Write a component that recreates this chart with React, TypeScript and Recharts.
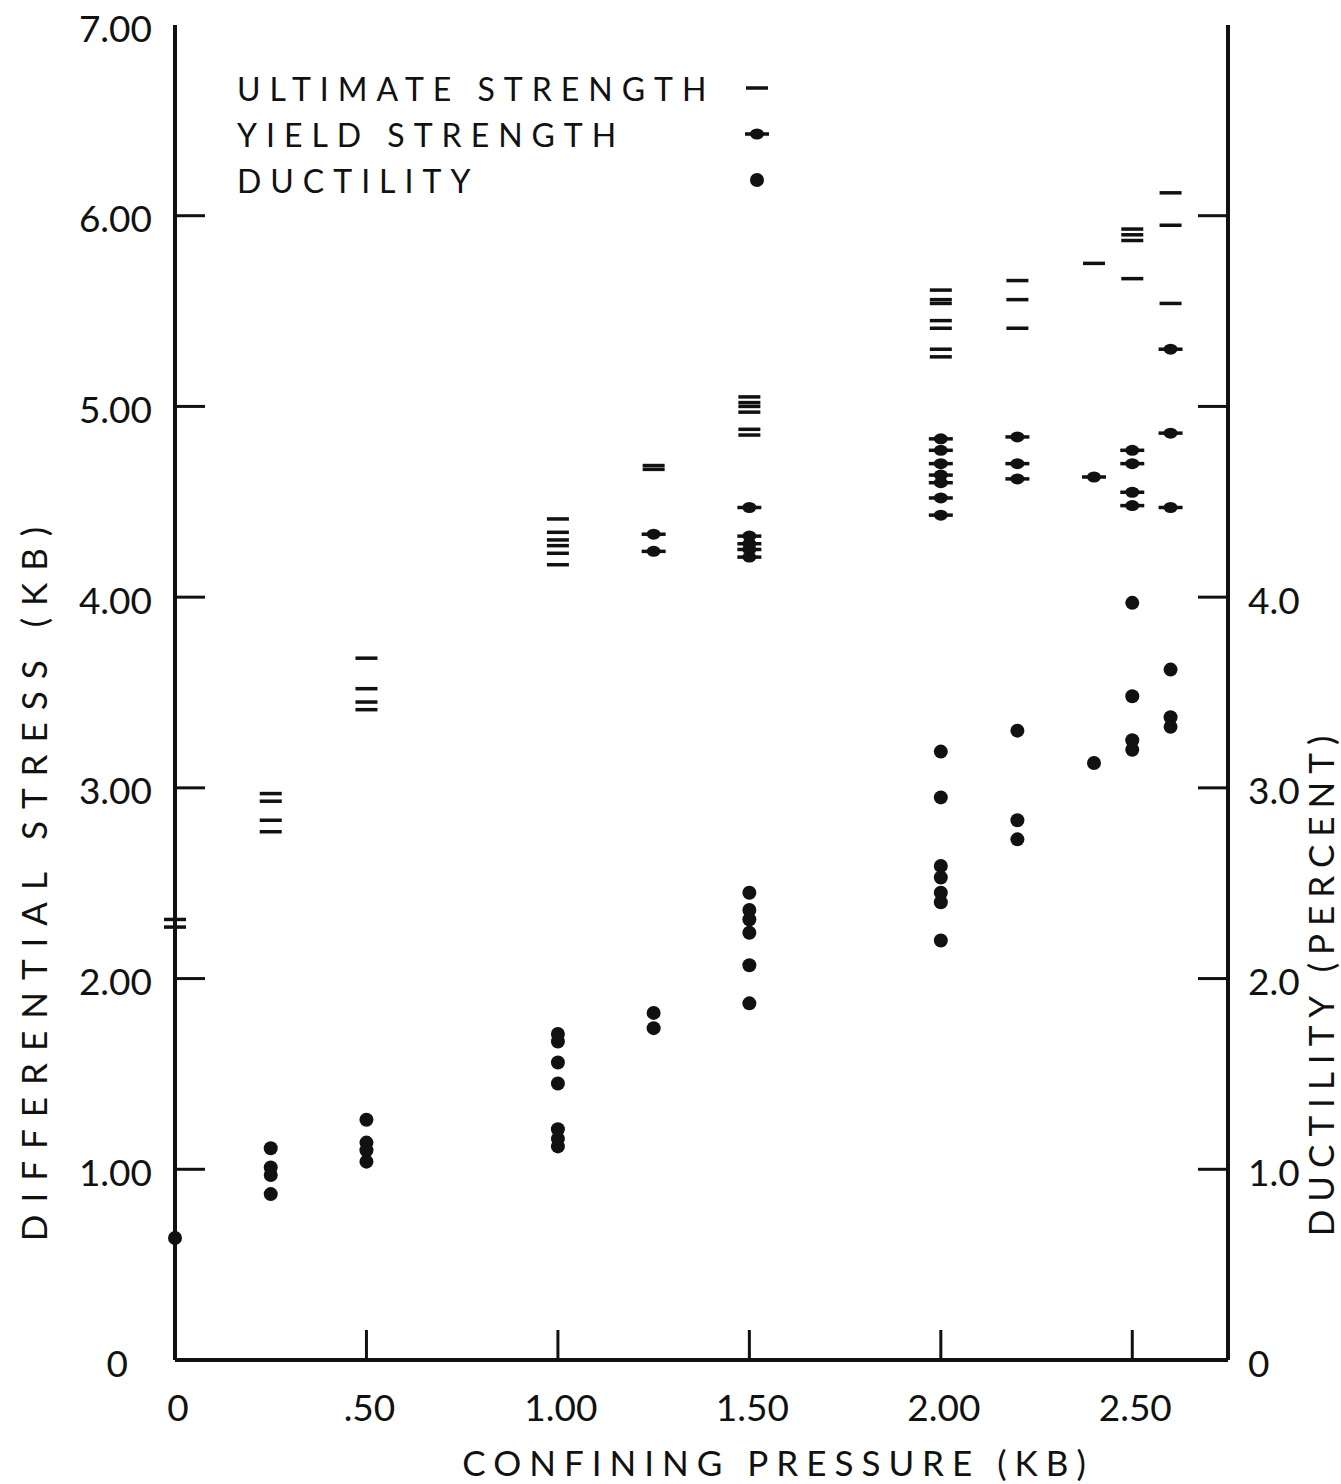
import React from "react"
import { ScatterChart, Scatter, XAxis, YAxis, Legend } from "recharts"

// confining pressure (kb) vs differential stress (kb) / ductility (percent)
const ultimateStrength = [
  { pressure: 0, value: 2.31 }, { pressure: 0, value: 2.27 },
  { pressure: 0.25, value: 2.97 }, { pressure: 0.25, value: 2.93 }, { pressure: 0.25, value: 2.83 }, { pressure: 0.25, value: 2.77 },
  { pressure: 0.5, value: 3.68 }, { pressure: 0.5, value: 3.52 }, { pressure: 0.5, value: 3.45 }, { pressure: 0.5, value: 3.41 },
  { pressure: 1.0, value: 4.41 }, { pressure: 1.0, value: 4.34 }, { pressure: 1.0, value: 4.3 }, { pressure: 1.0, value: 4.27 },
  { pressure: 1.0, value: 4.23 }, { pressure: 1.0, value: 4.17 },
  { pressure: 1.25, value: 4.69 }, { pressure: 1.25, value: 4.67 },
  { pressure: 1.5, value: 5.05 }, { pressure: 1.5, value: 5.02 }, { pressure: 1.5, value: 5.0 }, { pressure: 1.5, value: 4.97 },
  { pressure: 1.5, value: 4.88 }, { pressure: 1.5, value: 4.85 },
  { pressure: 2.0, value: 5.61 }, { pressure: 2.0, value: 5.56 }, { pressure: 2.0, value: 5.54 }, { pressure: 2.0, value: 5.45 },
  { pressure: 2.0, value: 5.41 }, { pressure: 2.0, value: 5.3 }, { pressure: 2.0, value: 5.26 },
  { pressure: 2.2, value: 5.66 }, { pressure: 2.2, value: 5.56 }, { pressure: 2.2, value: 5.41 },
  { pressure: 2.4, value: 5.75 },
  { pressure: 2.5, value: 5.93 }, { pressure: 2.5, value: 5.9 }, { pressure: 2.5, value: 5.87 }, { pressure: 2.5, value: 5.67 },
  { pressure: 2.6, value: 6.12 }, { pressure: 2.6, value: 5.95 }, { pressure: 2.6, value: 5.54 },
]

const yieldStrength = [
  { pressure: 1.25, value: 4.33 }, { pressure: 1.25, value: 4.24 },
  { pressure: 1.5, value: 4.47 }, { pressure: 1.5, value: 4.32 }, { pressure: 1.5, value: 4.28 }, { pressure: 1.5, value: 4.25 },
  { pressure: 1.5, value: 4.21 },
  { pressure: 2.0, value: 4.83 }, { pressure: 2.0, value: 4.77 }, { pressure: 2.0, value: 4.7 }, { pressure: 2.0, value: 4.64 },
  { pressure: 2.0, value: 4.6 }, { pressure: 2.0, value: 4.52 }, { pressure: 2.0, value: 4.43 },
  { pressure: 2.2, value: 4.84 }, { pressure: 2.2, value: 4.7 }, { pressure: 2.2, value: 4.62 },
  { pressure: 2.4, value: 4.63 },
  { pressure: 2.5, value: 4.77 }, { pressure: 2.5, value: 4.7 }, { pressure: 2.5, value: 4.55 }, { pressure: 2.5, value: 4.48 },
  { pressure: 2.6, value: 5.3 }, { pressure: 2.6, value: 4.86 }, { pressure: 2.6, value: 4.47 },
]

const ductility = [
  { pressure: 0, value: 0.64 },
  { pressure: 0.25, value: 1.11 }, { pressure: 0.25, value: 1.01 }, { pressure: 0.25, value: 0.97 }, { pressure: 0.25, value: 0.87 },
  { pressure: 0.5, value: 1.26 }, { pressure: 0.5, value: 1.14 }, { pressure: 0.5, value: 1.1 }, { pressure: 0.5, value: 1.04 },
  { pressure: 1.0, value: 1.71 }, { pressure: 1.0, value: 1.67 }, { pressure: 1.0, value: 1.56 }, { pressure: 1.0, value: 1.45 },
  { pressure: 1.0, value: 1.21 }, { pressure: 1.0, value: 1.16 }, { pressure: 1.0, value: 1.12 },
  { pressure: 1.25, value: 1.82 }, { pressure: 1.25, value: 1.74 },
  { pressure: 1.5, value: 2.45 }, { pressure: 1.5, value: 2.36 }, { pressure: 1.5, value: 2.31 }, { pressure: 1.5, value: 2.24 },
  { pressure: 1.5, value: 2.07 }, { pressure: 1.5, value: 1.87 },
  { pressure: 2.0, value: 3.19 }, { pressure: 2.0, value: 2.95 }, { pressure: 2.0, value: 2.59 }, { pressure: 2.0, value: 2.53 },
  { pressure: 2.0, value: 2.45 }, { pressure: 2.0, value: 2.4 }, { pressure: 2.0, value: 2.2 },
  { pressure: 2.2, value: 3.3 }, { pressure: 2.2, value: 2.83 }, { pressure: 2.2, value: 2.73 },
  { pressure: 2.4, value: 3.13 },
  { pressure: 2.5, value: 3.97 }, { pressure: 2.5, value: 3.48 }, { pressure: 2.5, value: 3.25 }, { pressure: 2.5, value: 3.2 },
  { pressure: 2.6, value: 3.62 }, { pressure: 2.6, value: 3.37 }, { pressure: 2.6, value: 3.32 },
]

const pressureTicks = [0, 0.5, 1, 1.5, 2, 2.5]
const pressureLabels = ["0", ".50", "1.00", "1.50", "2.00", "2.50"]
const stressTicks = [0, 1, 2, 3, 4, 5, 6, 7]
const stressLabels = ["0", "1.00", "2.00", "3.00", "4.00", "5.00", "6.00", "7.00"]
const ductilityTicks = [0, 1, 2, 3, 4, 5, 6, 7]
const ductilityLabels = ["0", "1.0", "2.0", "3.0", "4.0", "", "", ""]

const legendItems = ["ULTIMATE STRENGTH", "YIELD STRENGTH", "DUCTILITY"]

const FONT = "Lato, 'DejaVu Sans', sans-serif"
const INK = "#111"
const TICK_LEN = 30

function DashMark({ cx, cy }: any) {
  return <line x1={cx - 11} x2={cx + 11} y1={cy} y2={cy} stroke={INK} strokeWidth={3.5} />
}

function YieldMark({ cx, cy }: any) {
  return (
    <g>
      <line x1={cx - 12} x2={cx + 12} y1={cy} y2={cy} stroke={INK} strokeWidth={3.5} />
      <ellipse cx={cx} cy={cy} rx={7} ry={5.5} fill={INK} />
    </g>
  )
}

function DotMark({ cx, cy }: any) {
  return <circle cx={cx} cy={cy} r={7} fill={INK} />
}

function LeftTick({ x, y, payload }: any) {
  const axisX = x + 25
  const i = stressTicks.indexOf(payload.value)
  const tx = payload.value === 0 ? axisX - 47 : axisX - 23
  return (
    <g>
      {payload.value > 0 && payload.value < 7 && (
        <line x1={axisX} x2={axisX + TICK_LEN} y1={y} y2={y} stroke={INK} strokeWidth={3} />
      )}
      <text x={tx} y={y + 2} textAnchor="end" dominantBaseline="central" fontFamily={FONT} fontSize={37} fill={INK}>
        {stressLabels[i]}
      </text>
    </g>
  )
}

function RightTick({ x, y, payload }: any) {
  const axisX = x - 20
  const i = ductilityTicks.indexOf(payload.value)
  return (
    <g>
      {payload.value > 0 && payload.value < 7 && (
        <line x1={axisX - TICK_LEN} x2={axisX} y1={y} y2={y} stroke={INK} strokeWidth={3} />
      )}
      <text x={axisX + 20} y={y + 2} textAnchor="start" dominantBaseline="central" fontFamily={FONT} fontSize={37} fill={INK}>
        {ductilityLabels[i]}
      </text>
    </g>
  )
}

function BottomTick({ x, y, payload }: any) {
  const axisY = y - 20
  const i = pressureTicks.indexOf(payload.value)
  return (
    <g>
      {payload.value > 0 && (
        <line x1={x} x2={x} y1={axisY - TICK_LEN} y2={axisY} stroke={INK} strokeWidth={3} />
      )}
      <text x={x + 3} y={axisY + 46} textAnchor="middle" dominantBaseline="central" fontFamily={FONT} fontSize={37} fill={INK}>
        {pressureLabels[i]}
      </text>
    </g>
  )
}

function TopTick({ x, y, payload }: any) {
  if (payload.value === 0) return <g />
  return <line x1={x} x2={x} y1={y} y2={y + TICK_LEN} stroke={INK} strokeWidth={3} />
}

function LegendContent() {
  const marks = [DashMark, YieldMark, DotMark]
  return (
    <div style={{ fontFamily: FONT, color: INK }}>
      {legendItems.map((name, i) => {
        const Mark = marks[i]
        return (
          <div key={name} style={{ display: "flex", alignItems: "center", height: 46 }}>
            <span style={{ width: 500, fontSize: 32, letterSpacing: 9, whiteSpace: "nowrap" }}>{name}</span>
            <svg width={40} height={30}>
              <Mark cx={20} cy={15} />
            </svg>
          </div>
        )
      })}
    </div>
  )
}

function AxisTitle({ x, y, angle, text, spacing }: any) {
  return (
    <text
      x={x}
      y={y}
      transform={angle ? `rotate(${angle} ${x} ${y})` : undefined}
      textAnchor="middle"
      dominantBaseline="central"
      fontFamily={FONT}
      fontSize={35}
      letterSpacing={spacing}
      fill={INK}
    >
      {text}
    </text>
  )
}

export default function App() {
  const axisLine = { stroke: INK, strokeWidth: 4 }
  return (
    <div style={{ position: "absolute", left: 0, top: 0, width: 1341, height: 1484, background: "#fff" }}>
      <ScatterChart width={1341} height={1484} margin={{ top: 25, right: 0, bottom: 0, left: 0 }}>
        <XAxis
          xAxisId="bottom"
          dataKey="pressure"
          type="number"
          domain={[0, 2.75]}
          ticks={pressureTicks}
          height={124}
          axisLine={axisLine}
          tickLine={false}
          tickSize={0}
          tickMargin={20}
          tick={<BottomTick />}
          interval={0}
        />
        <XAxis
          xAxisId="top"
          orientation="top"
          type="number"
          domain={[0, 2.75]}
          ticks={pressureTicks}
          height={0}
          axisLine={axisLine}
          tickLine={false}
          tickSize={0}
          tickMargin={0}
          tick={<TopTick />}
          interval={0}
          allowDataOverflow
        />
        <YAxis
          yAxisId="stress"
          dataKey="value"
          type="number"
          domain={[0, 7]}
          ticks={stressTicks}
          width={175}
          axisLine={axisLine}
          tickLine={false}
          tickSize={0}
          tickMargin={25}
          tick={<LeftTick />}
          interval={0}
        />
        <YAxis
          yAxisId="ductility"
          orientation="right"
          dataKey="value"
          type="number"
          domain={[0, 7]}
          ticks={ductilityTicks}
          width={113}
          axisLine={axisLine}
          tickLine={false}
          tickSize={0}
          tickMargin={20}
          tick={<RightTick />}
          interval={0}
        />
        <Legend
          layout="vertical"
          align="center"
          verticalAlign="middle"
          content={<LegendContent />}
          wrapperStyle={{ position: "absolute", top: 65, left: 237, width: 560 }}
        />
        <Scatter
          name="ULTIMATE STRENGTH"
          data={ultimateStrength}
          xAxisId="bottom"
          yAxisId="stress"
          shape={<DashMark />}
          isAnimationActive={false}
        />
        <Scatter
          name="YIELD STRENGTH"
          data={yieldStrength}
          xAxisId="bottom"
          yAxisId="stress"
          shape={<YieldMark />}
          isAnimationActive={false}
        />
        <Scatter
          name="DUCTILITY"
          data={ductility}
          xAxisId="bottom"
          yAxisId="ductility"
          shape={<DotMark />}
          isAnimationActive={false}
        />
      </ScatterChart>
      <svg width={1341} height={1484} style={{ position: "absolute", left: 0, top: 0, pointerEvents: "none" }}>
        <AxisTitle x={778} y={1462} text="CONFINING PRESSURE (KB)" spacing={8} />
        <AxisTitle x={33} y={878} angle={-90} text="DIFFERENTIAL STRESS (KB)" spacing={12} />
        <AxisTitle x={1320} y={982} angle={-90} text="DUCTILITY (PERCENT)" spacing={8} />
      </svg>
    </div>
  )
}
